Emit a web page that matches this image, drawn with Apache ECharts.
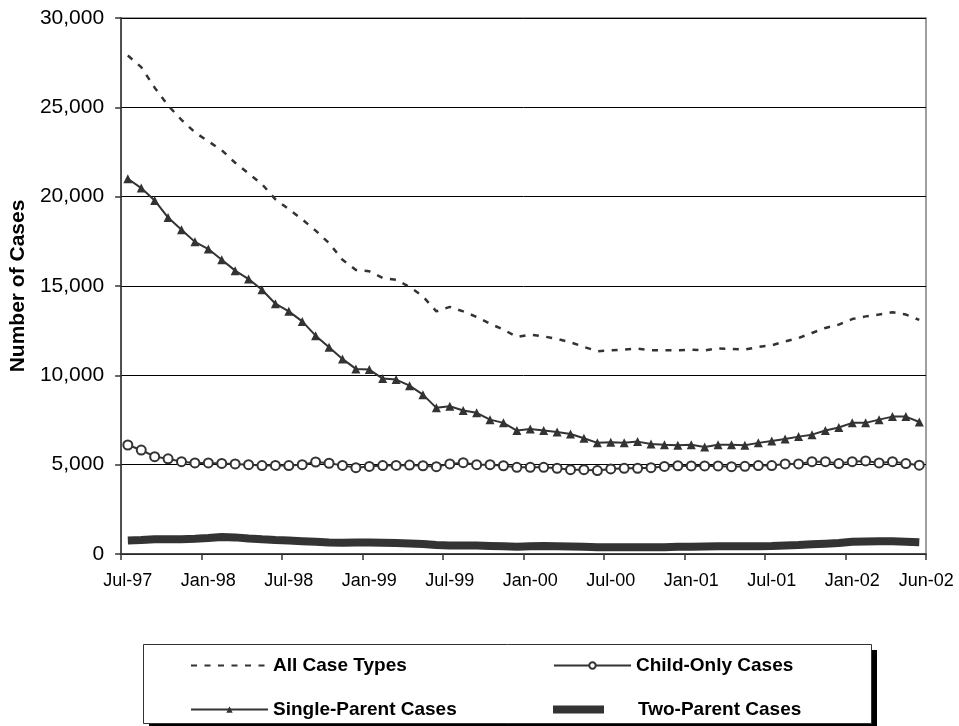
<!DOCTYPE html>
<html>
<head>
<meta charset="utf-8">
<script src="https://cdn.jsdelivr.net/npm/echarts@6/dist/echarts.min.js"></script>
<style>
  html, body { margin: 0; padding: 0; background: #fff; }
  #chart { width: 959px; height: 726px; }
</style>
</head>
<body>
<div id="chart"></div>
<script>
const categories = [
  'Jul-97','Aug-97','Sep-97','Oct-97','Nov-97','Dec-97',
  'Jan-98','Feb-98','Mar-98','Apr-98','May-98','Jun-98','Jul-98','Aug-98','Sep-98','Oct-98','Nov-98','Dec-98',
  'Jan-99','Feb-99','Mar-99','Apr-99','May-99','Jun-99','Jul-99','Aug-99','Sep-99','Oct-99','Nov-99','Dec-99',
  'Jan-00','Feb-00','Mar-00','Apr-00','May-00','Jun-00','Jul-00','Aug-00','Sep-00','Oct-00','Nov-00','Dec-00',
  'Jan-01','Feb-01','Mar-01','Apr-01','May-01','Jun-01','Jul-01','Aug-01','Sep-01','Oct-01','Nov-01','Dec-01',
  'Jan-02','Feb-02','Mar-02','Apr-02','May-02','Jun-02'
];

const allCaseTypes = [
  27900, 27250, 26100, 25100, 24300, 23600, 23100, 22600, 21900, 21300,
  20700, 19850, 19300, 18730, 18100, 17400, 16470, 15900, 15820, 15450,
  15350, 14950, 14420, 13580, 13830, 13580, 13270, 12890, 12560, 12150,
  12280, 12180, 12040, 11850, 11590, 11350, 11400, 11440, 11500, 11400,
  11400, 11400, 11440, 11400, 11500, 11480, 11440, 11590, 11680, 11900,
  12090, 12370, 12650, 12840, 13150, 13300, 13400, 13530, 13400, 13100
];

const childOnly = [
  6100, 5820, 5450, 5330, 5170, 5100, 5100, 5070, 5040, 5000,
  4950, 4960, 4950, 5000, 5150, 5080, 4960, 4830, 4900, 4950,
  4960, 4980, 4940, 4890, 5040, 5110, 5000, 5000, 4940, 4850,
  4850, 4850, 4800, 4720, 4720, 4670, 4760, 4800, 4800, 4830,
  4900, 4940, 4930, 4930, 4930, 4890, 4910, 4950, 4950, 5040,
  5040, 5170, 5170, 5060, 5170, 5210, 5100, 5170, 5060, 4970
];

const singleParent = [
  21000, 20480, 19790, 18830, 18150, 17470, 17070, 16470, 15860, 15390,
  14790, 14010, 13580, 13020, 12220, 11570, 10920, 10360, 10320, 9820,
  9760, 9420, 8920, 8180, 8270, 8030, 7900, 7520, 7340, 6910,
  7000, 6910, 6830, 6720, 6480, 6220, 6260, 6220, 6290, 6160,
  6120, 6090, 6120, 5990, 6120, 6120, 6090, 6220, 6330, 6440,
  6570, 6680, 6910, 7080, 7340, 7340, 7520, 7690, 7690, 7390
];

const twoParent = [
  750, 780, 820, 830, 830, 860, 900, 950, 930, 870,
  820, 780, 750, 720, 690, 650, 630, 640, 650, 630,
  610, 590, 560, 500, 480, 470, 470, 450, 430, 410,
  440, 450, 440, 420, 400, 380, 380, 380, 380, 380,
  380, 400, 410, 420, 430, 430, 430, 440, 450, 480,
  500, 540, 580, 620, 680, 700, 710, 710, 690, 660
];

const yTicks = [0, 5000, 10000, 15000, 20000, 25000, 30000];

const FONT = "'Liberation Sans', Arial, Helvetica, sans-serif";
const INK = '#333333';
const lastIdx = categories.length - 1;

const chart = echarts.init(document.getElementById('chart'), null, { renderer: 'canvas' });

const legendCommon = {
  orient: 'horizontal',
  padding: 0,
  itemWidth: 77,
  itemHeight: 8,
  selectedMode: false,
  textStyle: { fontFamily: FONT, fontSize: 19, fontWeight: 'bold', color: '#000' }
};

chart.setOption({
  animation: false,
  backgroundColor: '#ffffff',
  textStyle: { fontFamily: FONT },
  graphic: [
    {
      type: 'rect', left: 149, top: 650, z: 0, silent: true,
      shape: { width: 728, height: 79 },
      style: { fill: '#000000' }
    },
    {
      type: 'rect', left: 143, top: 644, z: 1, silent: true,
      shape: { width: 728, height: 79 },
      style: { fill: '#ffffff', stroke: '#333333', lineWidth: 1 }
    }
  ],
  legend: [
    Object.assign({}, legendCommon, {
      left: 190, top: 656, data: ['All Case Types'],
      itemStyle: { color: 'rgba(0,0,0,0)', borderColor: 'rgba(0,0,0,0)', borderWidth: 0 }
    }),
    Object.assign({}, legendCommon, { left: 190, top: 700, data: ['Single-Parent Cases'] }),
    Object.assign({}, legendCommon, { left: 553, top: 656, data: ['Child-Only Cases'] }),
    Object.assign({}, legendCommon, {
      left: 553, top: 700, itemWidth: 51, itemHeight: 8,
      data: [{ name: 'Two-Parent Cases', icon: 'rect' }],
      textStyle: { fontFamily: FONT, fontSize: 19, fontWeight: 'bold', color: '#000', padding: [0, 0, 0, 29] }
    })
  ],
  grid: {
    left: 116, top: 18, width: 810, height: 536,
    show: true, borderColor: '#808080', borderWidth: 1.5, backgroundColor: 'transparent'
  },
  xAxis: {
    type: 'category',
    data: categories,
    boundaryGap: true,
    axisLine: { lineStyle: { color: INK, width: 1.5 } },
    axisTick: { show: true, length: 6, interval: function (i) { return i % 6 === 0; }, lineStyle: { color: INK, width: 1.5 } },
    axisLabel: {
      interval: function (i) { return i % 6 === 0 || i === lastIdx; },
      fontFamily: FONT, fontSize: 18, color: '#000', margin: 18,
      formatter: function (v, i) { return i === lastIdx ? '{e|' + v + '}' : v; },
      rich: { e: { fontFamily: FONT, fontSize: 18, color: '#000', padding: [0, 0, 0, 14] } }
    },
    splitLine: { show: false }
  },
  yAxis: {
    type: 'value',
    min: yTicks[0], max: yTicks[yTicks.length - 1], interval: 5000,
    name: 'Number of Cases',
    nameLocation: 'middle',
    nameGap: 86,
    nameTextStyle: { fontFamily: FONT, fontSize: 21, fontWeight: 'bold', color: '#000' },
    axisLine: { show: true, lineStyle: { color: INK, width: 1.5 } },
    axisTick: { show: true, length: 6, lineStyle: { color: INK, width: 1.5 } },
    axisLabel: { fontFamily: FONT, fontSize: 21, color: '#000', margin: 17 },
    splitLine: { show: true, lineStyle: { color: '#000000', width: 1 } }
  },
  series: [
    {
      name: 'All Case Types', type: 'line', data: allCaseTypes,
      symbol: 'none', z: 3,
      lineStyle: { color: INK, width: 2.5, type: [6, 7.5] },
      itemStyle: { color: INK }
    },
    {
      name: 'Child-Only Cases', type: 'line', data: childOnly,
      symbol: 'circle', symbolSize: 9, showSymbol: true, showAllSymbol: true, z: 4,
      lineStyle: { color: INK, width: 2 },
      itemStyle: { color: '#ffffff', borderColor: INK, borderWidth: 2 }
    },
    {
      name: 'Single-Parent Cases', type: 'line', data: singleParent,
      symbol: 'triangle', symbolSize: 9, showSymbol: true, showAllSymbol: true, z: 4,
      lineStyle: { color: INK, width: 2 },
      itemStyle: { color: INK }
    },
    {
      name: 'Two-Parent Cases', type: 'line', data: twoParent,
      symbol: 'none', z: 2,
      lineStyle: { color: INK, width: 8 },
      itemStyle: { color: INK }
    }
  ]
});
</script>
</body>
</html>
